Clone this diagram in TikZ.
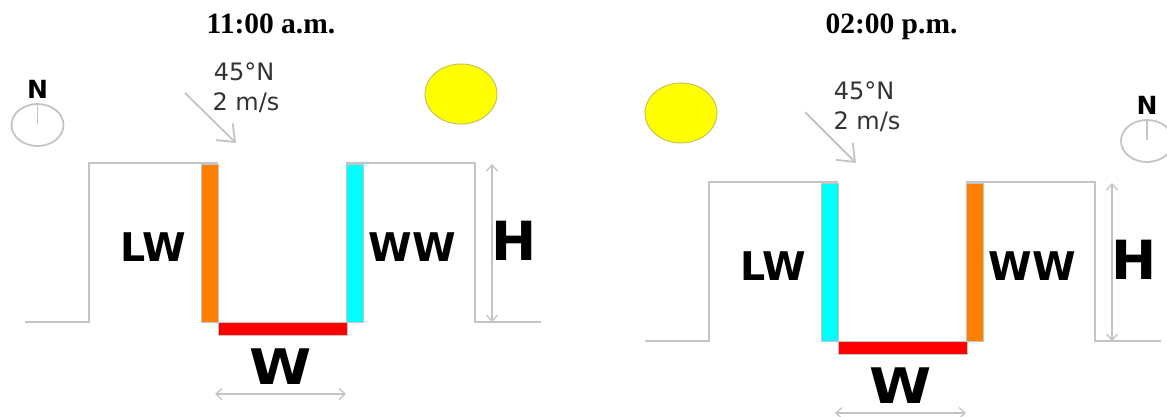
\documentclass[tikz,border=0pt]{standalone}
\usepackage{fontspec}
\setmainfont{Liberation Serif}
\newfontfamily\djv{DejaVu Sans}
\usetikzlibrary{arrows.meta}
\definecolor{linegray}{HTML}{C4C4C4}
\definecolor{wallorange}{HTML}{FF8000}
\definecolor{wallcyan}{HTML}{00FFFF}
\definecolor{floorred}{HTML}{FF0000}
\definecolor{sunyellow}{HTML}{FFFF00}
\definecolor{sunedge}{HTML}{C8C060}
\definecolor{labeldark}{HTML}{333333}
\tikzset{
  x=1pt,y=-1pt,
  profile/.style={draw=linegray,line width=2pt,line join=miter},
  wallbox/.style={draw=linegray,line width=0.7pt},
  dimline/.style={draw=linegray,line width=1.3pt,{Straight Barb[length=6pt,width=11pt]}-{Straight Barb[length=6pt,width=11pt]}},
  windline/.style={draw=linegray,line width=1.8pt,-{Straight Barb[length=15pt,width=24pt]}},
  titletext/.style={font=\fontsize{29.5}{31}\selectfont\bfseries,text=black,inner sep=0pt,anchor=base},
  windtext/.style={font=\djv\fontsize{24}{26}\selectfont,text=labeldark,inner sep=0pt},
  walltext/.style={font=\djv\bfseries\fontsize{39.5}{41}\selectfont,text=black,inner sep=0pt},
  bigtext/.style={font=\djv\bfseries\fontsize{54}{57}\selectfont,text=black,inner sep=0pt},
  widetext/.style={font=\djv\bfseries\fontsize{49}{52}\selectfont,text=black,inner sep=0pt,xscale=1.15},
  northtext/.style={font=\djv\bfseries\fontsize{25}{27}\selectfont,text=black,inner sep=0pt},
  dialline/.style={draw=linegray,line width=1.8pt},
  sun/.style={draw=sunedge,line width=1pt,fill=sunyellow},
  pics/canyon/.style n args={2}{code={
    \draw[profile] (25,322) -- (89,322) -- (89,163) -- (218,163);
    \draw[profile] (346,163) -- (475,163) -- (475,322) -- (541,322);
    \draw[wallbox,fill=#1] (201,164) rectangle (218,322);
    \draw[wallbox,fill=#2] (346,164) rectangle (363,322);
    \draw[wallbox,fill=floorred] (218,322) rectangle (347,335);
    \coordinate (-hTop) at (492,164);
    \coordinate (-hBot) at (492,322);
    \coordinate (-wL) at (215,394);
    \coordinate (-wR) at (346,394);
    \draw[dimline] (-hTop) -- (-hBot);
    \draw[dimline] (-wL) -- (-wR);
    \node[walltext] (-lw) at (153,247) {LW};
    \node[walltext] (-ww) at (412,247) {WW};
    \node[bigtext] (-h) at (514,241) {H};
    \node[widetext] (-w) at (281,367) {W};
  }}
}
\begin{document}
\begin{tikzpicture}
\useasboundingbox (0,0) rectangle (1167,417);
% left panel
\node[titletext] (titleA) at (271,34) {11:00 a.m.};
\node[windtext] (degA) at (244,72) {45°N};
\node[windtext] (speedA) at (246,103) {2 m/s};
\coordinate (windAs) at (185,93);
\coordinate (windAe) at (236,143);
\draw[windline] (windAs) -- (windAe);
\node[northtext] (northA) at (37.5,89) {N};
\draw[dialline] (37.5,125) ellipse [x radius=26,y radius=21];
\coordinate (dialAt) at (37.5,104);
\coordinate (dialAc) at (37.5,124);
\draw[dialline] (dialAt) -- (dialAc);
\draw[sun] (461,94) ellipse [x radius=36,y radius=30];
\pic (panelA) at (0,0) {canyon={wallorange}{wallcyan}};
% right panel
\node[titletext] (titleB) at (891.5,34) {02:00 p.m.};
\node[windtext] (degB) at (864,91) {45°N};
\node[windtext] (speedB) at (867,122) {2 m/s};
\coordinate (windBs) at (805,112);
\coordinate (windBe) at (856,163);
\draw[windline] (windBs) -- (windBe);
\node[northtext] (northB) at (1147,105) {N};
\draw[dialline] (1147,141) ellipse [x radius=26,y radius=21];
\coordinate (dialBt) at (1147,120);
\coordinate (dialBc) at (1147,140);
\draw[dialline] (dialBt) -- (dialBc);
\draw[sun] (681,113) ellipse [x radius=36,y radius=30];
\pic (panelB) at (620,19) {canyon={wallcyan}{wallorange}};
\end{tikzpicture}
\end{document}
